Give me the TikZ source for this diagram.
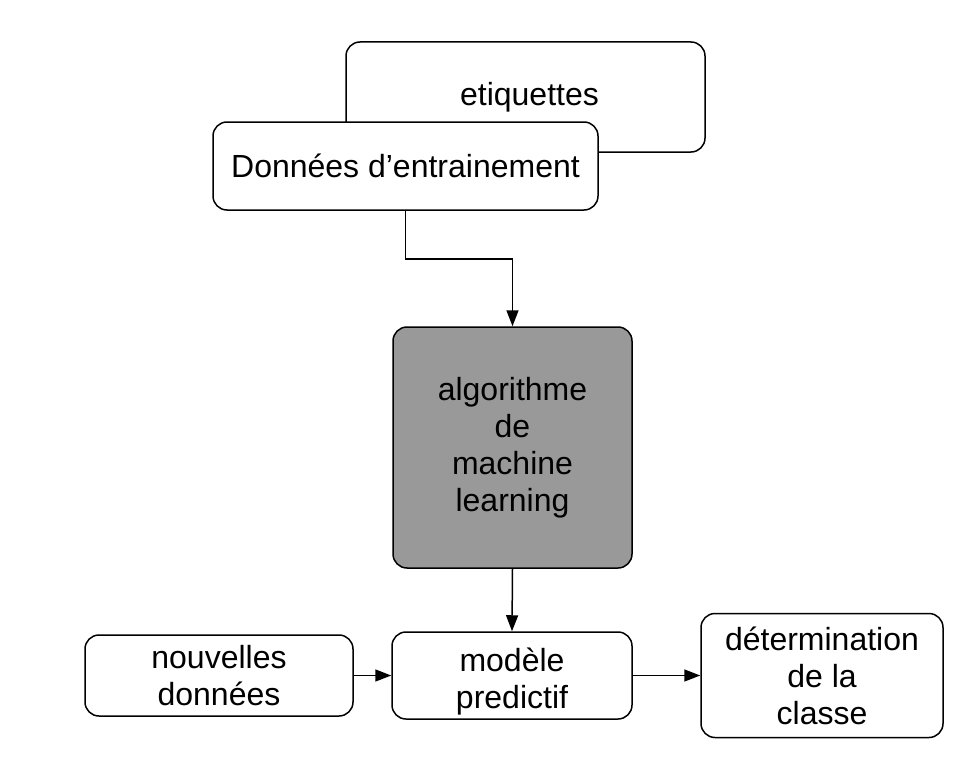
\documentclass[tikz,border=0pt]{standalone}
\usepackage{fontspec}
\setmainfont{Liberation Sans}
\usepackage{tikz}
\usetikzlibrary{arrows.meta,positioning,shapes,calc}

\begin{document}
\begin{tikzpicture}[x=1pt,y=-1pt,->,>={Triangle[length=16pt,width=12pt]},
                    line width=1.5pt,
                    font=\fontsize{32}{37}\selectfont]
  \tikzstyle{bloc}=[draw,fill=white,rounded corners=14pt,align=center,inner sep=2pt]
  \tikzstyle{algobloc}=[bloc,fill=black!40]

  \useasboundingbox (0,0) rectangle (978,768);

  \node[bloc,minimum width=359pt,minimum height=110pt]	(etiq)  at (525.5,97)	{\hspace*{8pt}etiquettes};
  \node[bloc,minimum width=385pt,minimum height=88pt]	(don)   at (405.5,166)	{Données d’entrainement};
  \node[algobloc,minimum width=239pt,minimum height=241pt]	(algo)  at (512.5,447.5)	{algorithme\\de\\machine\\learning};
  \node[bloc,minimum width=240pt,minimum height=87pt]	(modele) at (512,675.5)	{\rule{0pt}{36pt}modèle\\predictif};
  \node[bloc,minimum width=268pt,minimum height=81pt]	(nouv)  at (219,675.5)	{nouvelles\\données};
  \node[bloc,minimum width=242pt,minimum height=124pt]	(classe) at (822,675.5)	{détermination\\de la\\classe};

  \draw (don.south) -- ++(0,48) -| (algo.north);
  \draw (algo.south) -- (modele.north);
  \draw (nouv.east) -- (modele.west);
  \draw (modele.east) -- (classe.west);

\end{tikzpicture}
\end{document}
